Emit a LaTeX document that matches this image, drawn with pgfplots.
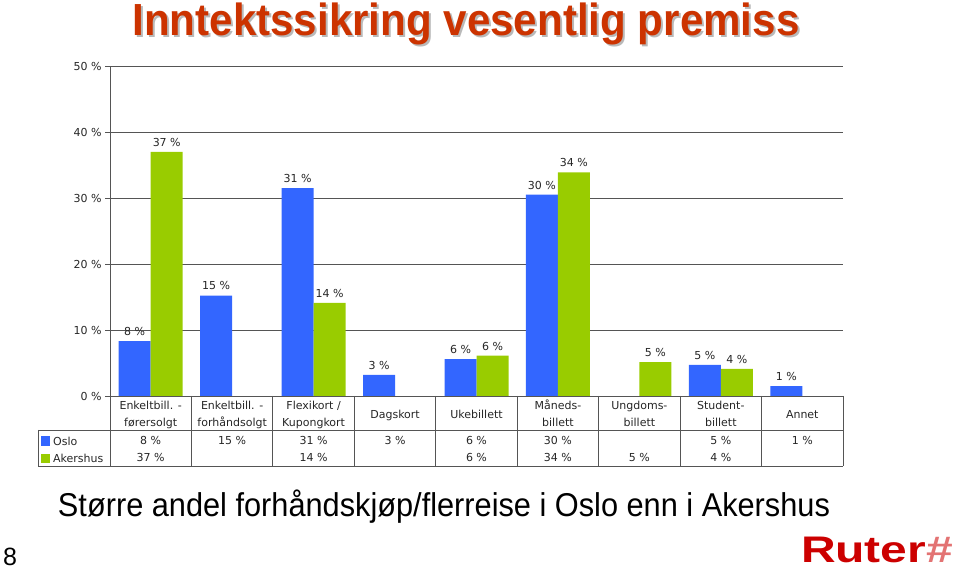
\documentclass[border=0pt]{standalone}
\usepackage{pgfplots}
\pgfplotsset{compat=1.18}
\usepackage{pgfplotstable}
\usepackage{graphicx}
\usepackage{fontspec}
\setmainfont{DejaVu Sans}
\newfontfamily\titlefont{Liberation Sans}
\definecolor{oslo}{HTML}{3366FF}
\definecolor{akers}{HTML}{99CC00}
\definecolor{titlered}{HTML}{CC3300}
\definecolor{ruterred}{HTML}{CC0000}
\definecolor{gridc}{HTML}{555555}

\pgfplotstableread{
x y lab
0 8.3 8
1 15.2 15
2 31.5 31
3 3.2 3
4 5.6 6
5 30.5 30
7 4.7 5
8 1.5 1
}\osloData
\pgfplotstableread{
x y lab
0 37.0 37
2 14.1 14
4 6.1 6
5 33.9 34
6 5.15 5
7 4.1 4
}\akersData

\begin{document}
\begin{tikzpicture}[x=1pt,y=1pt]
\path[use as bounding box] (0,0) rectangle (959,570);
\begin{axis}[
 at={(110pt,174pt)}, anchor=south west,
 scale only axis, width=733pt, height=330pt,
 xmin=-0.5, xmax=8.5, ymin=0, ymax=50,
 ybar=0pt, bar width=32pt,
 axis x line*=bottom, axis y line*=left,
 axis line style={-, gridc, line width=0.9pt},
 ytick={0,10,20,30,40,50},
 yticklabel={\pgfmathprintnumber{\tick}~\%},
 yticklabel style={font=\fontsize{11}{13}\selectfont, black!85},
 /pgf/number format/assume math mode=true,
 tick align=outside, major tick length=5pt,
 ytick style={gridc, line width=0.8pt},
 ymajorgrids, grid style={gridc, line width=0.7pt},
 xtick={0,...,8}, xtick style={draw=none},
 xticklabels={{\strut Enkeltbill. -\\\strut førersolgt},{\strut Enkeltbill. -\\\strut forhåndsolgt},{\strut Flexikort /\\\strut Kupongkort},{\strut Dagskort},{\strut Ukebillett},{\strut Måneds-\\\strut billett},{\strut Ungdoms-\\\strut billett},{\strut Student-\\\strut billett},{\strut Annet}},
 xticklabel style={anchor=center, yshift=-14pt, align=center, font=\fontsize{11}{17}\selectfont, black!85, inner sep=0pt},
 point meta=explicit,
 nodes near coords={\pgfmathprintnumber{\pgfplotspointmeta}~\%},
 every node near coord/.append style={font=\fontsize{11}{13}\selectfont, black!85, yshift=2pt},
 clip=false,
]
\addplot[fill=oslo, draw=none] table[x=x, y=y, meta=lab] {\osloData};
\addplot[fill=akers, draw=none] table[x=x, y=y, meta=lab] {\akersData};
\end{axis}
% table
\begin{scope}[gridc, line width=0.9pt]
\foreach \i in {0,...,9} \draw ({110+81.444*\i},174) -- ({110+81.444*\i},104);
\draw (38,140) -- (843.4,140);
\draw (38,104) -- (843.4,104);
\draw (38,140) -- (38,104);
\end{scope}
\fill[oslo] (41,124) rectangle (50,134);
\fill[akers] (41,107) rectangle (50,116);
\begin{scope}[every node/.style={font=\fontsize{11}{13}\selectfont, text=black!85, inner sep=0pt}]
\node[anchor=west] at (53,129) {Oslo};
\node[anchor=west] at (53,112) {Akershus};
\foreach \v [count=\i from 0] in {8,15,31,3,6,30,,5,1} {
  \ifx\v\empty\else\node at ({150.7+81.444*\i},129.5) {\v~\%};\fi
}
\foreach \v [count=\i from 0] in {37,,14,,6,34,5,4,} {
  \ifx\v\empty\else\node at ({150.7+81.444*\i},112.5) {\v~\%};\fi
}
\end{scope}
% title
\node[anchor=base, text=gray!55, inner sep=0pt] at (468,532) {\resizebox{667pt}{\height}{\titlefont\fontsize{45}{50}\selectfont\bfseries Inntektssikring vesentlig premiss}};
\node[anchor=base, text=titlered, inner sep=0pt] at (466,534) {\resizebox{667pt}{\height}{\titlefont\fontsize{45}{50}\selectfont\bfseries Inntektssikring vesentlig premiss}};
% subtitle
\node[anchor=base, inner sep=0pt] at (444,53) {\resizebox{772pt}{\height}{\titlefont\fontsize{33}{36}\selectfont Større andel forhåndskjøp/flerreise i Oslo enn i Akershus}};
\node[anchor=base west, inner sep=0pt] at (3,4) {\titlefont\fontsize{25}{28}\selectfont 8};
\node[anchor=base, inner sep=0pt] at (877,7) {\resizebox{152pt}{\height}{\titlefont\fontsize{37}{40}\selectfont\bfseries\textcolor{ruterred}{Ruter}\textcolor{ruterred!55}{\#}}};
\end{tikzpicture}
\end{document}
